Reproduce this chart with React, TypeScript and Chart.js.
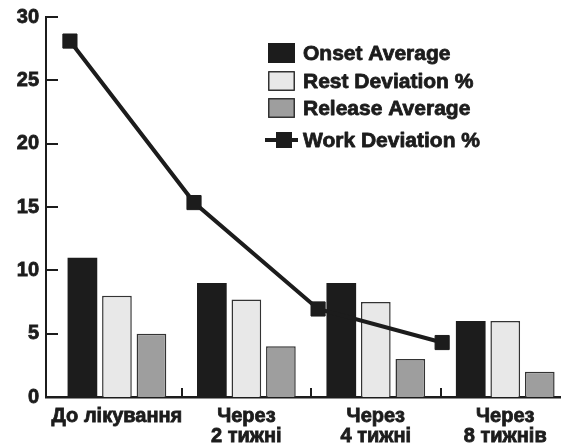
import React, { useEffect, useRef } from 'react';
import { Chart, registerables } from 'chart.js';

Chart.register(...registerables);

// ---- data ----
const CATEGORIES: string[][] = [
  ['До лікування'],
  ['Через', '2 тижні'],
  ['Через', '4 тижні'],
  ['Через', '8 тижнів'],
];
const ONSET_AVERAGE = [11, 9, 9, 6];
const REST_DEVIATION = [8, 7.7, 7.5, 6];
const RELEASE_AVERAGE = [5, 4, 3, 2];
const WORK_DEVIATION = [28.1, 15.35, 6.95, 4.3];
const Y_MIN = 0;
const Y_MAX = 30;
const Y_STEP = 5;

const SERIES_LABELS = ['Onset Average', 'Rest Deviation %', 'Release Average', 'Work Deviation %'];

const INK = '#1c1c1c';
const FONT_FAMILY = '"Liberation Sans", Arial, Helvetica, sans-serif';
const TEXT_STROKE = 0.8;

const axisTicksPlugin = {
  id: 'inwardTicks',
  afterDraw(chart: any) {
    const { ctx, scales, chartArea } = chart;
    ctx.save();
    ctx.strokeStyle = INK;
    ctx.lineWidth = 2;
    const ys = scales.y;
    ys.ticks.forEach((t: any) => {
      if (t.value === Y_MIN) return;
      const py = Math.round(ys.getPixelForValue(t.value));
      ctx.beginPath();
      ctx.moveTo(chartArea.left, py);
      ctx.lineTo(chartArea.left + 12, py);
      ctx.stroke();
    });
    const xs = scales.x;
    for (let i = 0; i < CATEGORIES.length - 1; i++) {
      const px = Math.round(xs.getPixelForValue(i + 0.5));
      ctx.beginPath();
      ctx.moveTo(px, chartArea.bottom);
      ctx.lineTo(px, chartArea.bottom - 9);
      ctx.stroke();
    }
    ctx.restore();
  },
};

const legendPlugin = {
  id: 'innerLegend',
  afterDraw(chart: any) {
    const { ctx } = chart;
    const rows = [53, 81, 108, 140];
    const boxX = 268;
    const textX = 303;
    ctx.save();
    ctx.font = `bold 21px ${FONT_FAMILY}`;
    ctx.textBaseline = 'middle';
    ctx.textAlign = 'left';
    const ds = chart.data.datasets;
    ds.forEach((d: any, i: number) => {
      const y = rows[i];
      if (d.type === 'line') {
        ctx.strokeStyle = d.borderColor;
        ctx.lineWidth = 4;
        ctx.beginPath();
        ctx.moveTo(boxX - 3, y);
        ctx.lineTo(boxX + 30, y);
        ctx.stroke();
        ctx.fillStyle = d.pointBackgroundColor;
        ctx.fillRect(boxX + 8, y - 8, 16, 16);
      } else {
        ctx.fillStyle = d.backgroundColor;
        ctx.fillRect(boxX, y - 10, 27, 20);
        if (d.borderWidth) {
          ctx.strokeStyle = d.borderColor;
          ctx.lineWidth = 1.5;
          ctx.strokeRect(boxX + 0.75, y - 9.25, 25.5, 18.5);
        }
      }
      ctx.fillStyle = INK;
      ctx.strokeStyle = INK;
      ctx.lineWidth = TEXT_STROKE;
      ctx.lineJoin = 'round';
      ctx.fillText(d.label, textX, y + 1);
      ctx.strokeText(d.label, textX, y + 1);
    });
    ctx.restore();
  },
};

export default function App() {
  const ref = useRef<HTMLCanvasElement>(null);

  useEffect(() => {
    if (!ref.current) return;
    const font = { family: FONT_FAMILY, size: 20, weight: 'bold' as const, lineHeight: 1 };
    const toXY = (arr: number[]) => arr.map((v, i) => ({ x: i, y: v }));
    const chart = new Chart(ref.current, {
      type: 'bar',
      data: {
        datasets: [
          {
            type: 'bar',
            label: SERIES_LABELS[0],
            data: toXY(ONSET_AVERAGE),
            backgroundColor: INK,
            borderColor: INK,
            borderWidth: 0,
            xAxisID: 'x',
            order: 1,
          },
          {
            type: 'bar',
            label: SERIES_LABELS[1],
            data: toXY(REST_DEVIATION),
            backgroundColor: '#e8e8e8',
            borderColor: '#333333',
            borderWidth: 1.5,
            xAxisID: 'x',
            order: 1,
          },
          {
            type: 'bar',
            label: SERIES_LABELS[2],
            data: toXY(RELEASE_AVERAGE),
            backgroundColor: '#9e9e9e',
            borderColor: '#333333',
            borderWidth: 1.5,
            xAxisID: 'x',
            order: 1,
          },
          {
            type: 'line',
            label: SERIES_LABELS[3],
            data: toXY(WORK_DEVIATION),
            borderColor: INK,
            backgroundColor: INK,
            borderWidth: 4,
            tension: 0,
            pointStyle: 'rect',
            pointRadius: 10,
            pointBackgroundColor: INK,
            pointBorderColor: INK,
            pointBorderWidth: 1,
            xAxisID: 'x2',
            order: 0,
          } as any,
        ],
      },
      options: {
        animation: false,
        responsive: true,
        maintainAspectRatio: false,
        // bars group per value axis (shared 'y'), so the separate line x-axis does not split the groups
        indexAxis: 'y',
        layout: { padding: { top: 16, left: 0, right: 0, bottom: 0 } },
        datasets: {
          bar: { indexAxis: 'x', categoryPercentage: 0.8, barPercentage: 0.86 },
          line: { indexAxis: 'x' },
        },
        plugins: {
          legend: { display: false },
          tooltip: { enabled: false },
        },
        scales: {
          x: {
            type: 'linear',
            axis: 'x',
            position: 'bottom',
            bounds: 'data',
            offset: false,
            min: -0.548,
            max: 3.423,
            grid: { display: false, drawTicks: false, offset: false },
            border: { display: true, color: INK, width: 2.5 },
            afterBuildTicks: (scale: any) => {
              scale.ticks = CATEGORIES.map((_, i) => ({ value: i }));
            },
            afterFit: (scale: any) => {
              scale.height = 50;
            },
            ticks: {
              autoSkip: false,
              maxRotation: 0,
              minRotation: 0,
              padding: 9,
              color: INK,
              textStrokeColor: INK,
              textStrokeWidth: TEXT_STROKE,
              font,
              callback: (_v: any, i: number) => CATEGORIES[i],
            },
          },
          x2: {
            type: 'linear',
            axis: 'x',
            display: false,
            bounds: 'data',
            offset: false,
            min: -0.193,
            max: 3.95,
          },
          y: {
            type: 'linear',
            axis: 'y',
            position: 'left',
            offset: false,
            min: Y_MIN,
            max: Y_MAX,
            grid: { display: false, drawTicks: false, offset: false },
            border: { display: true, color: INK, width: 2 },
            afterFit: (scale: any) => {
              scale.width = 46;
            },
            ticks: {
              stepSize: Y_STEP,
              padding: 7,
              color: INK,
              textStrokeColor: INK,
              textStrokeWidth: TEXT_STROKE,
              font,
            },
          },
        },
      } as any,
      plugins: [axisTicksPlugin, legendPlugin],
    });
    return () => chart.destroy();
  }, []);

  return (
    <div style={{ position: 'fixed', left: 0, top: 0, width: 571, height: 447, background: '#fff' }}>
      <canvas ref={ref} />
    </div>
  );
}
